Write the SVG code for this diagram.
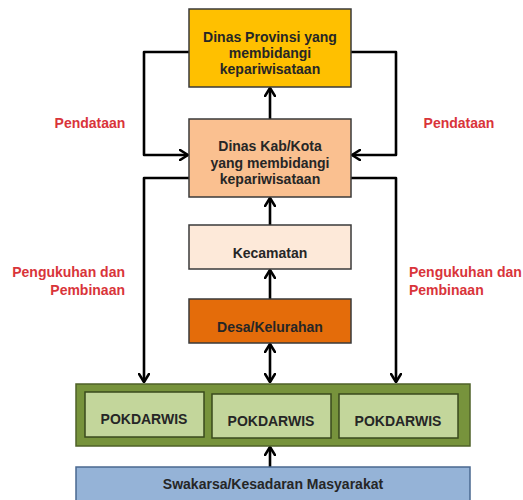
<svg xmlns="http://www.w3.org/2000/svg" width="523" height="500" viewBox="0 0 523 500">
<defs>
<marker id="ah" viewBox="0 0 10 12" refX="9" refY="6" markerWidth="10" markerHeight="12" markerUnits="userSpaceOnUse" orient="auto-start-reverse">
<path d="M1,1 L9,6 L1,11" fill="none" stroke="#000" stroke-width="2.6" stroke-linecap="round" stroke-linejoin="round"/>
</marker>
<style>
.box{stroke:#3a3a3a;stroke-width:1.5}
.t{font-family:"Liberation Sans",Arial,sans-serif;font-weight:bold;font-size:14px;fill:#262626;text-anchor:middle}
.r{font-family:"Liberation Sans",Arial,sans-serif;font-weight:bold;font-size:14px;fill:#D9343A}
.c{fill:none;stroke:#000;stroke-width:2.6;stroke-linejoin:round;marker-end:url(#ah)}
</style>
</defs>
<rect width="523" height="500" fill="#fff"/>
<g id="connectors">
<path class="c" d="M270,119 V88"/>
<path class="c" d="M270,225 V198"/>
<path class="c" d="M270,299 V270"/>
<path class="c" d="M270,344 V382" style="marker-start:url(#ah)"/>
<path class="c" d="M270,467 V447"/>
<path class="c" d="M189,52 H144 V155 H188"/>
<path class="c" d="M351,52 H396 V155 H352"/>
<path class="c" d="M189,178 H144 V382"/>
<path class="c" d="M351,178 H396 V382"/>
</g>
<g id="label-pendataan-left"><text class="r" x="90" y="128" text-anchor="middle">Pendataan</text></g>
<g id="label-pendataan-right"><text class="r" x="459" y="128" text-anchor="middle">Pendataan</text></g>
<g id="label-pengukuhan-left"><text class="r" x="125" y="277" text-anchor="end">Pengukuhan dan</text><text class="r" x="125" y="295" text-anchor="end">Pembinaan</text></g>
<g id="label-pengukuhan-right"><text class="r" x="409" y="277">Pengukuhan dan</text><text class="r" x="409" y="295">Pembinaan</text></g>
<g id="dinas-provinsi">
<rect class="box" x="189" y="9" width="162" height="78" fill="#FFC000"/>
<text class="t" x="270" y="42">Dinas Provinsi yang</text>
<text class="t" x="270" y="58">membidangi</text>
<text class="t" x="270" y="74">kepariwisataan</text>
</g>
<g id="dinas-kab">
<rect class="box" x="189" y="119" width="162" height="78" fill="#FAC090"/>
<text class="t" x="270" y="151">Dinas Kab/Kota</text>
<text class="t" x="270" y="168">yang membidangi</text>
<text class="t" x="270" y="184">kepariwisataan</text>
</g>
<g id="kecamatan">
<rect class="box" x="189" y="225" width="162" height="44" fill="#FDE9D9"/>
<text class="t" x="270" y="258">Kecamatan</text>
</g>
<g id="desa">
<rect class="box" x="189" y="299" width="162" height="44" fill="#E46C0A"/>
<text class="t" x="270" y="332">Desa/Kelurahan</text>
</g>
<g id="pokdarwis-group">
<rect x="76" y="384" width="394" height="62" fill="#77933C" stroke="#4F6228" stroke-width="1.5"/>
</g>
<g id="pokdarwis-1">
<rect x="85" y="392" width="119" height="45" fill="#C3D69B" stroke="#3a4a1c" stroke-width="1.5"/>
<text class="t" x="144" y="424">POKDARWIS</text>
</g>
<g id="pokdarwis-2">
<rect x="212" y="394" width="119" height="44" fill="#C3D69B" stroke="#3a4a1c" stroke-width="1.5"/>
<text class="t" x="271" y="426">POKDARWIS</text>
</g>
<g id="pokdarwis-3">
<rect x="339" y="394" width="119" height="44" fill="#C3D69B" stroke="#3a4a1c" stroke-width="1.5"/>
<text class="t" x="398" y="426">POKDARWIS</text>
</g>
<g id="swakarsa">
<rect x="76" y="467" width="394" height="40" fill="#95B3D7" stroke="#4a6890" stroke-width="1.5"/>
<text class="t" x="273" y="489">Swakarsa/Kesadaran Masyarakat</text>
</g>
</svg>
